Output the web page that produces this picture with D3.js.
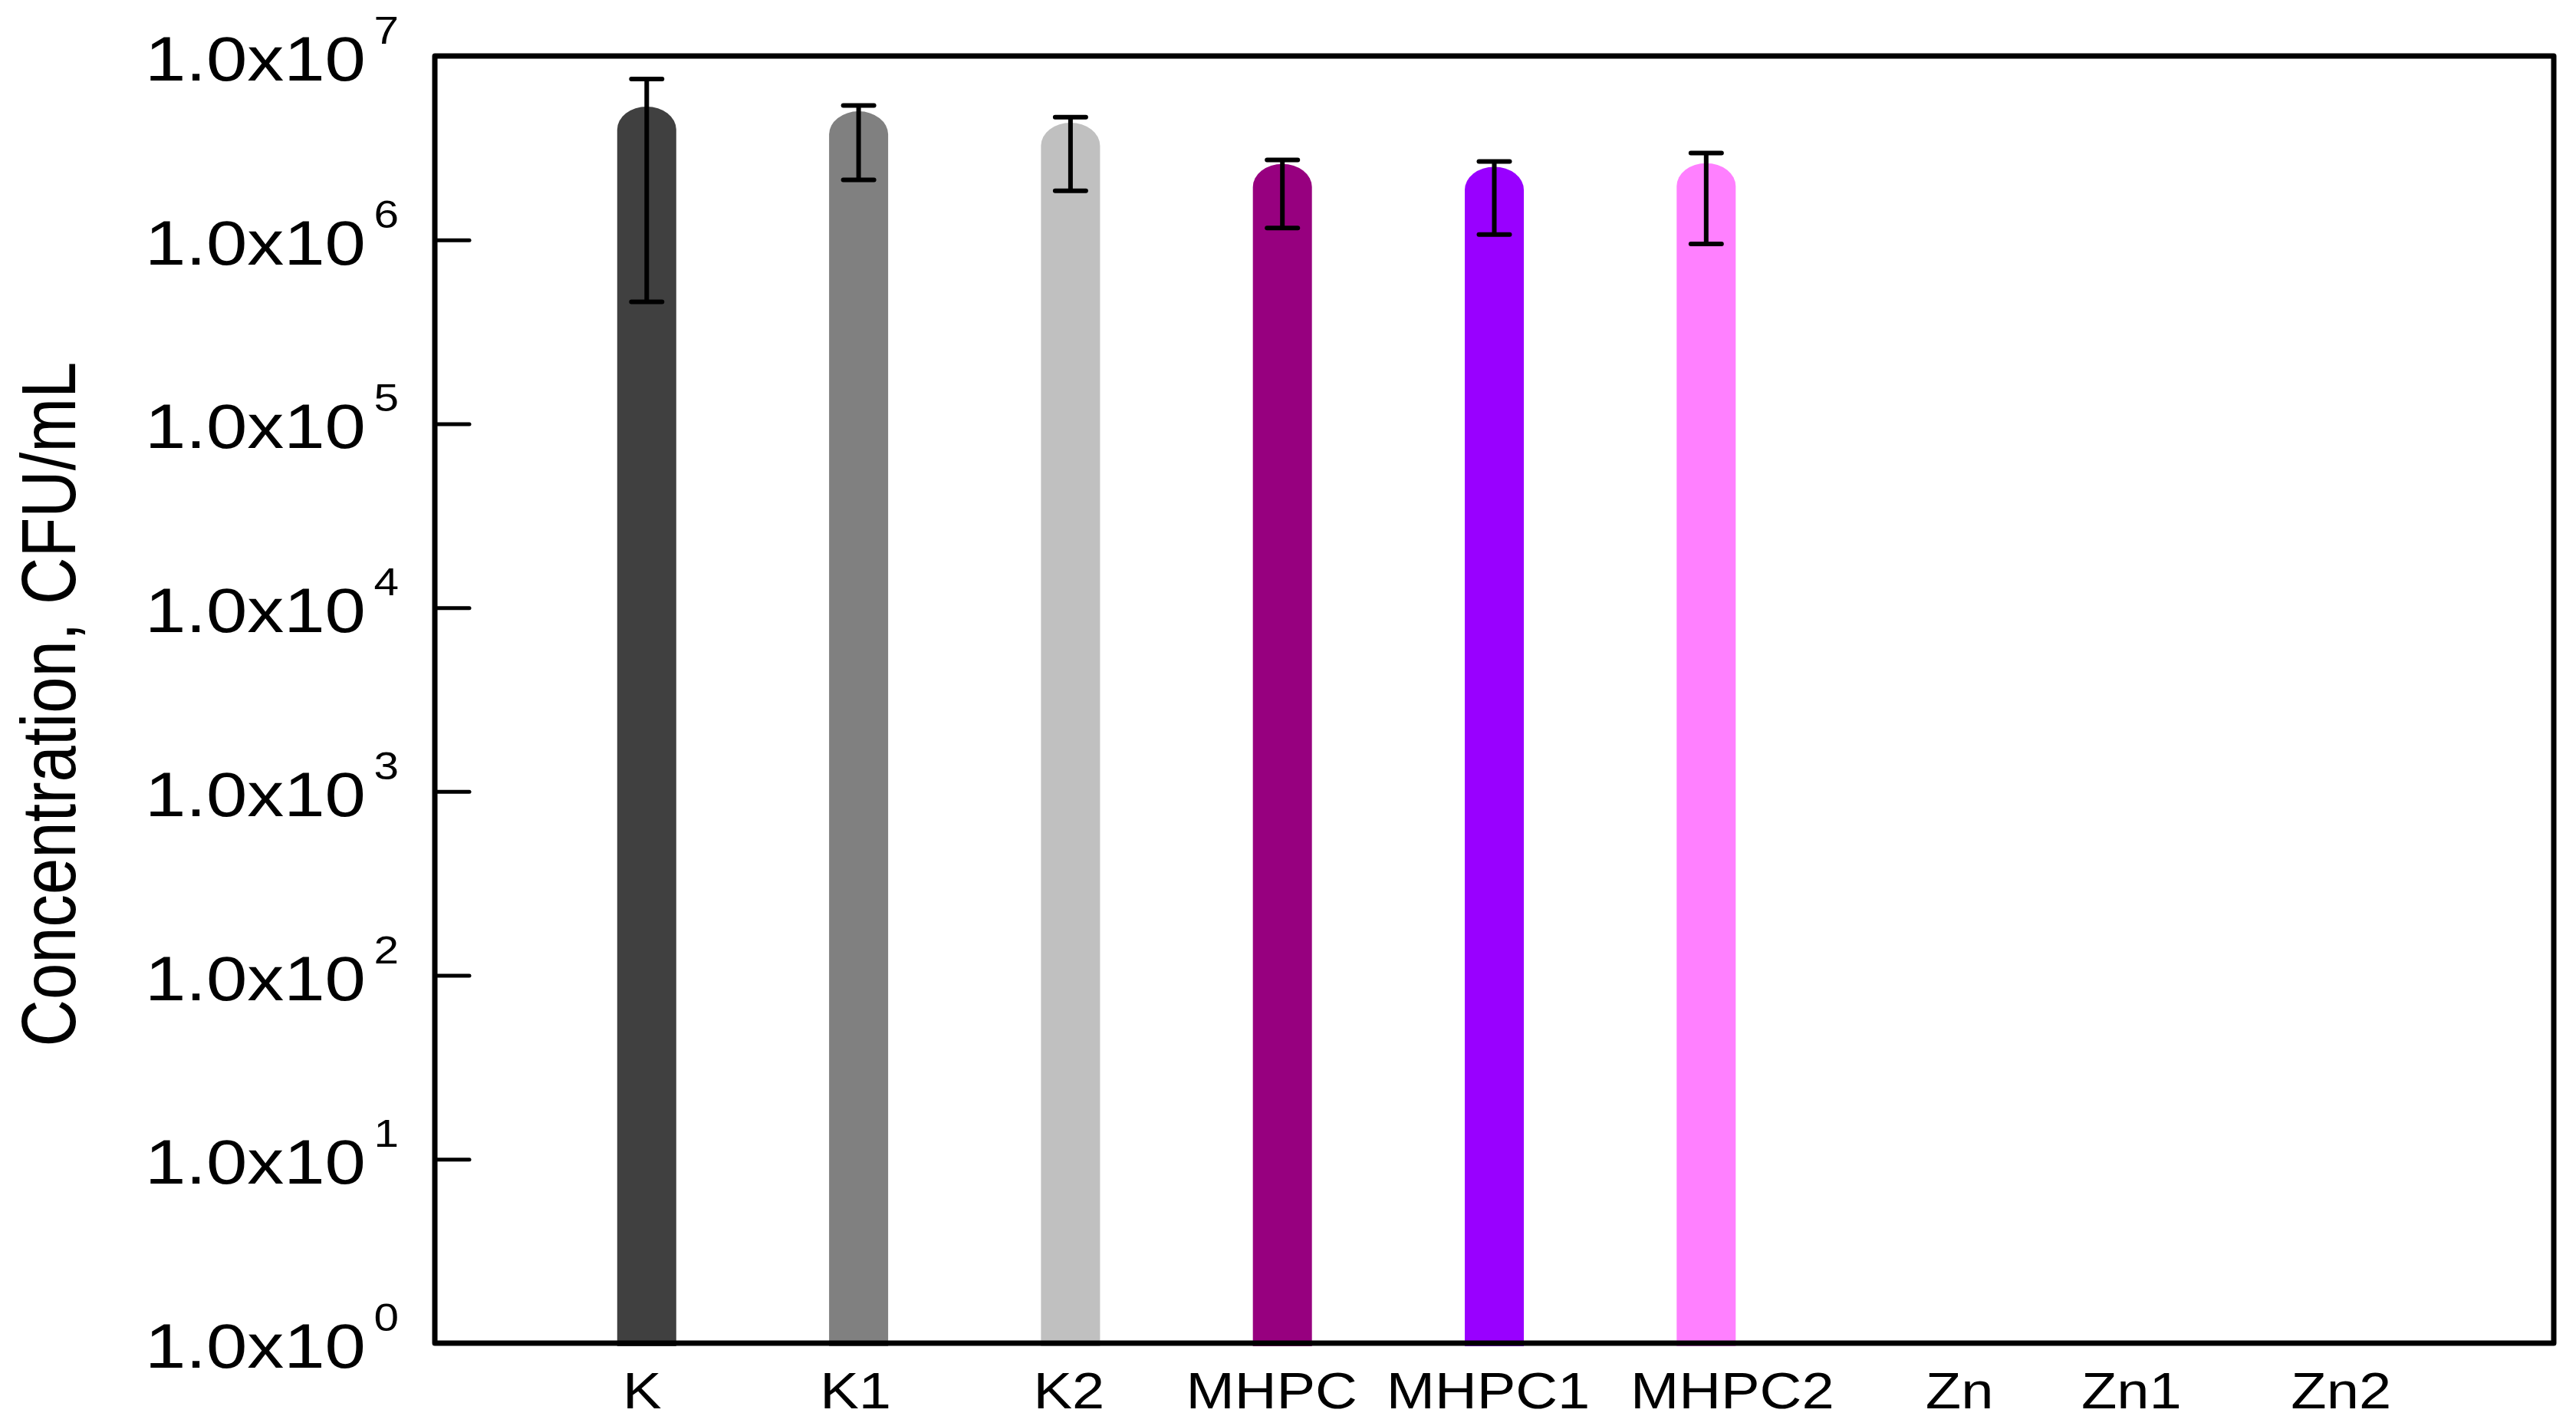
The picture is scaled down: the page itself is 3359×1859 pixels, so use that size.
<!DOCTYPE html>
<html>
<head>
<meta charset="utf-8">
<script src="https://cdn.jsdelivr.net/npm/d3@7"></script>
<style>
  html, body { margin: 0; padding: 0; background: #fff; }
  svg { display: block; }
  text { font-family: "Liberation Sans", Arial, sans-serif; fill: #000; }
</style>
</head>
<body>
<svg id="chart" width="3359" height="1859"></svg>
<script>
// ---- data ----
const categories = ["K", "K1", "K2", "MHPC", "MHPC1", "MHPC2", "Zn", "Zn1", "Zn2"];
const means      = [3.98e6, 3.75e6, 3.25e6, 1.94e6, 1.87e6, 1.96e6, null, null, null];
const errors     = [3.52e6, 1.63e6, 1.40e6, 0.78e6, 0.80e6, 1.01e6, null, null, null];
const barColors  = ["#404040", "#808080", "#c0c0c0", "#97007f", "#9900ff", "#ff80ff", "#000000", "#000000", "#000000"];
const tickExponents = [0, 1, 2, 3, 4, 5, 6, 7];
const tickMantissa = "1.0x10";
const yTitle = "Concentration, CFU/mL";

// ---- layout ----
const W = 3359, H = 1859;
const plot = { left: 567, right: 3330, top: 73, bottom: 1751 };
const stretch = 1.17;
// small horizontal nudges of the category labels, as placed in the original
const labelNudge = [-6, -4, -2, -14, -8, 34, 54, 2, -1];

const svg = d3.select("#chart");

const x = d3.scalePoint().domain(categories).range([plot.left, plot.right]).padding(1.0);
const y = d3.scaleLog().domain([1, 1e7]).range([plot.bottom, plot.top]);

const barW = 77, capRy = 30;

// bars
const data = categories.map((c, i) => ({ c, m: means[i], e: errors[i], col: barColors[i] }))
  .filter(d => d.m != null);

const barG = svg.append("g");
barG.selectAll("path.bar").data(data).join("path")
  .attr("class", "bar")
  .attr("fill", d => d.col)
  .attr("d", d => {
    const cx = x(d.c), x0 = cx - barW / 2, x1 = cx + barW / 2;
    const yt = y(d.m), yb = y(1) + 4;
    const rx = barW / 2;
    return `M${x0},${yb} L${x0},${yt} A${rx},${capRy} 0 0 1 ${x1},${yt} L${x1},${yb} Z`;
  });

// frame
svg.append("rect")
  .attr("x", plot.left).attr("y", plot.top)
  .attr("width", plot.right - plot.left).attr("height", plot.bottom - plot.top)
  .attr("fill", "none").attr("stroke", "#000").attr("stroke-width", 7)
  .attr("stroke-linejoin", "round");

// y axis ticks (inward)
const yAxis = d3.axisLeft(y)
  .tickValues(tickExponents.slice(1, -1).map(e => Math.pow(10, e)))
  .tickSize(-45).tickFormat("");
const axG = svg.append("g").attr("transform", `translate(${plot.left},0)`).call(yAxis);
axG.select(".domain").remove();
axG.selectAll(".tick line").attr("stroke", "#000").attr("stroke-width", 5).attr("stroke-linecap", "round");

// y tick labels with superscript
const labG = svg.append("g");
tickExponents.forEach(e => {
  const g = labG.append("g").attr("transform", `translate(520,${y(Math.pow(10, e)) + 32}) scale(${stretch},1)`);
  const t = g.append("text").attr("text-anchor", "end").attr("font-size", 82);
  t.append("tspan").text(tickMantissa);
  t.append("tspan").attr("font-size", 50).attr("dx", 9).attr("dy", -48).text(String(e));
});

// x labels
svg.append("g").selectAll("g").data(categories).join("g")
  .attr("transform", (d, i) => `translate(${x(d) + labelNudge[i]},1836) scale(1.15,1)`)
  .append("text").attr("text-anchor", "middle").attr("font-size", 66).text(d => d);

// error bars
const errG = svg.append("g").attr("stroke", "#000").attr("fill", "none");
data.forEach(d => {
  const cx = x(d.c);
  const yHi = y(d.m + d.e), yLo = y(Math.max(d.m - d.e, 1));
  errG.append("line").attr("x1", cx).attr("x2", cx).attr("y1", yHi).attr("y2", yLo).attr("stroke-width", 6);
  [yHi, yLo].forEach(yy => {
    errG.append("line").attr("x1", cx - 20).attr("x2", cx + 20).attr("y1", yy).attr("y2", yy)
      .attr("stroke-width", 6).attr("stroke-linecap", "round");
  });
});

// y title
svg.append("text")
  .attr("transform", `translate(98,918) scale(${stretch},1) rotate(-90)`)
  .attr("text-anchor", "middle").attr("font-size", 85).text(yTitle);
</script>
</body>
</html>
